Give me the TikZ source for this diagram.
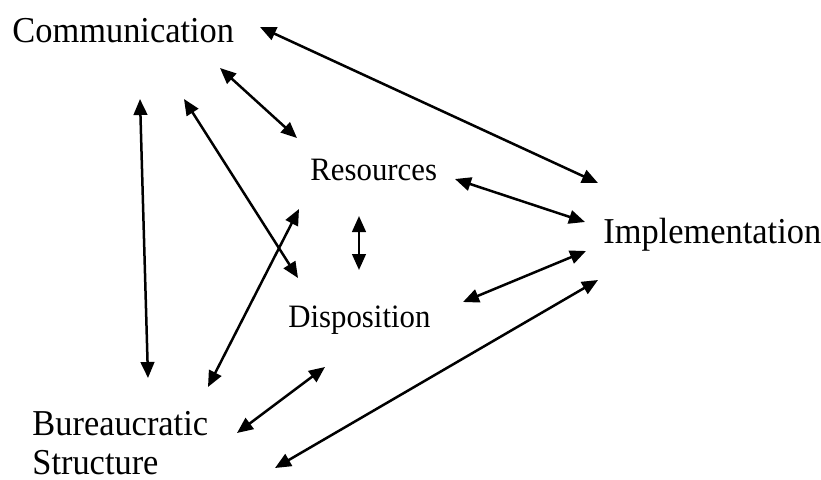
\documentclass[tikz,border=0pt]{standalone}
\usepackage{fontspec}
\setmainfont{Liberation Serif}
\usetikzlibrary{arrows.meta}
\begin{document}
\begin{tikzpicture}[x=0.5pt,y=-0.5pt,
  big/.style={inner sep=0pt,anchor=base west,yscale=1.06,transform shape,font=\fontsize{17.2pt}{19pt}\selectfont},
  small/.style={inner sep=0pt,anchor=base west,yscale=1.06,transform shape,font=\fontsize{15.4pt}{19pt}\selectfont},
  dbl/.style={line width=1.25pt,{Triangle[length=8pt,width=6.8pt]}-{Triangle[length=8pt,width=6.8pt]}}]
\useasboundingbox (0,0) rectangle (821,479);
\node[big] (comm) at (12,42) {Communication};
\node[small] (res) at (310,180) {Resources};
\node[big] (impl) at (603,243) {Implementation};
\node[small] (disp) at (288,327) {Disposition};
\node[big,align=left,font=\fontsize{17.2pt}{18pt}\selectfont] (bur) at (32,474) {Bureaucratic\\Structure};
% arrow ends
\coordinate (ci1) at (260,27);  \coordinate (ci2) at (598,183);
\coordinate (cr1) at (220,68);  \coordinate (cr2) at (297,138);
\coordinate (cb1) at (140,99);  \coordinate (cb2) at (148,378);
\coordinate (cd1) at (184,99);  \coordinate (cd2) at (298,278);
\coordinate (rb1) at (299,209); \coordinate (rb2) at (208,387);
\coordinate (rd1) at (359,216); \coordinate (rd2) at (359,270);
\coordinate (ri1) at (455,179); \coordinate (ri2) at (585,222);
\coordinate (di1) at (463,302); \coordinate (di2) at (586,251);
\coordinate (db1) at (325,367); \coordinate (db2) at (237,433);
\coordinate (bi1) at (275,468); \coordinate (bi2) at (598,280);
\draw[dbl] (ci1) -- (ci2);
\draw[dbl] (cr1) -- (cr2);
\draw[dbl] (cb1) -- (cb2);
\draw[dbl] (cd1) -- (cd2);
\draw[dbl] (rb1) -- (rb2);
\draw[dbl] (rd1) -- (rd2);
\draw[dbl] (ri1) -- (ri2);
\draw[dbl] (di1) -- (di2);
\draw[dbl] (db1) -- (db2);
\draw[dbl] (bi1) -- (bi2);
\end{tikzpicture}
\end{document}
